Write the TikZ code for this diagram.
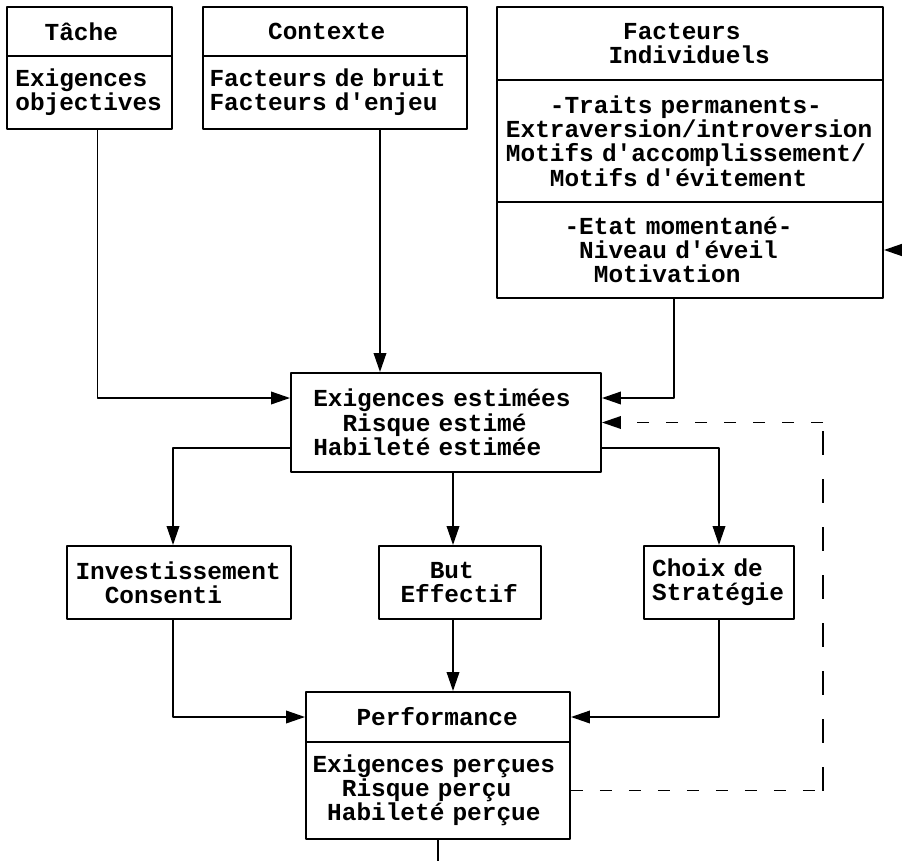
\documentclass[tikz,border=0pt]{standalone}
\usepackage{fontspec}
\setmonofont{Liberation Mono}
\usetikzlibrary{arrows.meta}
\newlength{\chw}\setlength{\chw}{8.34pt}
\newcommand{\indc}[1]{\hspace*{#1\chw}}
\newcommand{\boxfont}{\ttfamily\bfseries\fontsize{13.9}{13.8}\selectfont\spaceskip=\chw\relax\xspaceskip=\chw\relax}
\begin{document}
\begin{tikzpicture}[x=0.02cm,y=-0.02cm,line join=round,>={Triangle[length=0.38cm,width=0.25cm]},
	box/.style={draw,line width=1.1pt,inner sep=0pt,align=left,font=\boxfont},
	link/.style={line width=1.1pt,->},
	fbh/.style={line width=1.1pt,dash pattern=on 0.24cm off 0.34cm},
	fbv/.style={line width=1.1pt,dash pattern=on 0.48cm off 0.48cm}]
		\useasboundingbox (0,0) rectangle (902,861);
		% haut
		\node[box,minimum width=3.3cm,minimum height=0.98cm,text width=84.4pt] (tacheT) at (89.5,31.5) {\indc{2}Tâche};
		\node[box,minimum width=3.3cm,minimum height=1.46cm,text width=84.4pt] (tacheB) at (89.5,92.5) {Exigences\\objectives};
		\node[box,minimum width=5.28cm,minimum height=0.98cm,text width=142.8pt] (ctxT) at (335,31.5) {\indc{4}Contexte};
		\node[box,minimum width=5.28cm,minimum height=1.46cm,text width=142.8pt] (ctxB) at (335,92.5) {Facteurs de bruit\\Facteurs d'enjeu};
		\node[box,minimum width=7.72cm,minimum height=1.46cm,text width=209.5pt] (factT) at (690,43.5) {\indc{8}Facteurs\\\indc{7}Individuels};
		\node[box,minimum width=7.72cm,minimum height=2.44cm,text width=209.5pt] (factP) at (690,141) {\indc{3}-Traits permanents-\\Extraversion/introversion\\Motifs d'accomplissement/\\\indc{3}Motifs d'évitement};
		\node[box,minimum width=7.72cm,minimum height=1.92cm,text width=209.5pt] (factE) at (690,250) {\indc{4}-Etat momentané-\\\indc{5}Niveau d'éveil\\\indc{6}Motivation};
		% milieu
		\node[box,minimum width=6.2cm,minimum height=1.98cm,text width=151.1pt] (estim) at (446,422.5) {Exigences estimées\\\indc{2}Risque estimé\\Habileté estimée};
		\node[box,minimum width=4.48cm,minimum height=1.46cm,text width=117.8pt] (invest) at (179,582.5) {Investissement\\\indc{2}Consenti};
		\node[box,minimum width=3.24cm,minimum height=1.46cm,text width=67.7pt] (but) at (460,582.5) {\indc{2}But\\Effectif};
		\node[box,minimum width=3.0cm,minimum height=1.46cm,text width=76.1pt] (choix) at (719,582.5) {Choix de\\Stratégie};
		% bas
		\node[box,minimum width=5.28cm,minimum height=1.0cm,text width=142.8pt] (perfT) at (438,717) {\indc{3}Performance};
		\node[box,minimum width=5.28cm,minimum height=1.94cm,text width=142.8pt] (perfB) at (438,790.5) {Exigences perçues\\\indc{2}Risque perçu\\\indc{1}Habileté perçue};
		\coordinate (ext) at (902,250);
		\coordinate (fb) at (823,422.5);
		\coordinate (out) at (438,861);
		\coordinate (tacheO) at ([xshift=0.16cm]tacheB.south);
		\coordinate (ctxO) at ([xshift=0.9cm]ctxB.south);
		\coordinate (factO) at ([xshift=-0.32cm]factE.south);
		\coordinate (investI) at ([xshift=-0.12cm]invest.north);
		\coordinate (investO) at ([xshift=-0.12cm]invest.south);
		\coordinate (butI) at ([xshift=-0.14cm]but.north);
		\coordinate (butO) at ([xshift=-0.14cm]but.south);
		\draw[link] (tacheO) |- ([yshift=0.49cm]estim.west);
		\draw[link] (ctxO) -- (ctxO |- estim.north);
		\draw[link] (factO) |- ([yshift=0.49cm]estim.east);
		\draw[link] (ext) -- (factE.east);
		\draw[link] ([yshift=-0.51cm]estim.west) -| (investI);
		\draw[link] (butI |- estim.south) -- (butI);
		\draw[link] ([yshift=-0.51cm]estim.east) -| (choix.north);
		\draw[link] (investO) |- (perfT.west);
		\draw[link] (butO) -- (butO |- perfT.north);
		\draw[link] (choix.south) |- (perfT.east);
		\draw[line width=1.1pt] (perfB.south) -- (out);
		% retour
		\draw[fbh] (perfB.east) -- (perfB.east -| fb);
		\draw[fbv] (perfB.east -| fb) -- (fb);
		\draw[fbh,->] (fb) -- (estim.east);
	\end{tikzpicture}
\end{document}
